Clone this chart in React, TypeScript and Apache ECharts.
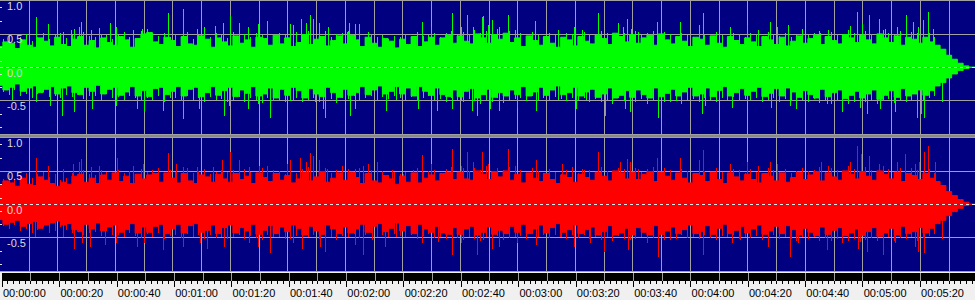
import React, { useEffect, useRef } from "react";
import * as echarts from "echarts";

// ---- data ----
const STEP_S = 2; // body envelope sampled every 2 seconds (t = 0, 2, 4, ...)
const HAIR_T0 = 1; // fine peaks sampled between them (t = 1, 3, 5, ...)
const X_MAX_S = 339.13; // visible time span (seconds)

const greenHi = [
  0.31,0.38,0.36,0.28,0.41,0.33,0.30,0.44,0.39,0.32,
  0.45,0.34,0.31,0.42,0.46,0.33,0.40,0.29,0.44,0.37,
  0.33,0.46,0.41,0.30,0.43,0.50,0.52,0.38,0.34,0.45,
  0.40,0.31,0.46,0.35,0.33,0.47,0.42,0.30,0.44,0.38,
  0.32,0.47,0.36,0.41,0.30,0.45,0.43,0.33,0.48,0.35,
  0.44,0.31,0.37,0.49,0.34,0.42,0.46,0.32,0.40,0.47,
  0.35,0.48,0.41,0.31,0.45,0.36,0.30,0.43,0.39,0.29,
  0.42,0.34,0.46,0.31,0.38,0.45,0.33,0.44,0.48,0.36,
  0.47,0.39,0.35,0.50,0.44,0.36,0.49,0.42,0.51,0.37,
  0.44,0.31,0.47,0.40,0.33,0.46,0.36,0.30,0.45,0.41,
  0.32,0.46,0.39,0.35,0.48,0.43,0.34,0.51,0.46,0.38,
  0.49,0.36,0.44,0.48,0.33,0.50,0.41,0.35,0.46,0.39,
  0.31,0.45,0.42,0.33,0.47,0.36,0.30,0.46,0.40,0.34,
  0.44,0.38,0.31,0.46,0.41,0.34,0.45,0.32,0.39,0.47,
  0.36,0.43,0.48,0.34,0.46,0.40,0.35,0.49,0.44,0.37,
  0.48,0.41,0.35,0.50,0.44,0.37,0.47,0.33,0.45,0.42,
  0.36,0.45,0.38,0.33,0.27,0.18,0.12,0.06,0.02,0,
  0,
];
const greenLo = [
  -0.27,-0.34,-0.30,-0.25,-0.36,-0.31,-0.28,-0.38,-0.33,-0.29,
  -0.40,-0.31,-0.28,-0.38,-0.41,-0.30,-0.36,-0.27,-0.40,-0.33,
  -0.30,-0.42,-0.37,-0.29,-0.43,-0.35,-0.44,-0.32,-0.30,-0.41,
  -0.36,-0.29,-0.43,-0.33,-0.30,-0.44,-0.38,-0.29,-0.42,-0.35,
  -0.30,-0.44,-0.34,-0.39,-0.29,-0.43,-0.40,-0.31,-0.46,-0.33,
  -0.42,-0.30,-0.35,-0.46,-0.32,-0.40,-0.44,-0.30,-0.38,-0.45,
  -0.33,-0.42,-0.38,-0.29,-0.41,-0.34,-0.28,-0.40,-0.36,-0.29,
  -0.40,-0.31,-0.43,-0.29,-0.36,-0.42,-0.31,-0.41,-0.44,-0.34,
  -0.44,-0.36,-0.32,-0.46,-0.41,-0.33,-0.45,-0.38,-0.43,-0.34,
  -0.41,-0.29,-0.43,-0.37,-0.30,-0.42,-0.34,-0.28,-0.41,-0.38,
  -0.30,-0.43,-0.37,-0.33,-0.45,-0.40,-0.31,-0.46,-0.42,-0.35,
  -0.45,-0.34,-0.41,-0.46,-0.31,-0.44,-0.39,-0.33,-0.43,-0.37,
  -0.30,-0.43,-0.40,-0.31,-0.44,-0.35,-0.29,-0.43,-0.38,-0.32,
  -0.42,-0.36,-0.30,-0.44,-0.39,-0.32,-0.43,-0.31,-0.37,-0.45,
  -0.35,-0.41,-0.46,-0.33,-0.44,-0.38,-0.34,-0.47,-0.42,-0.36,
  -0.46,-0.40,-0.34,-0.48,-0.42,-0.35,-0.45,-0.32,-0.43,-0.40,
  -0.34,-0.42,-0.35,-0.28,-0.23,-0.16,-0.10,-0.05,-0.02,0,
  0,
];
const redHi = [
  0.29,0.35,0.32,0.27,0.39,0.30,0.28,0.41,0.36,0.31,
  0.27,0.33,0.30,0.42,0.45,0.33,0.39,0.31,0.44,0.36,
  0.47,0.34,0.42,0.31,0.45,0.38,0.44,0.46,0.33,0.47,
  0.39,0.32,0.46,0.35,0.31,0.44,0.41,0.33,0.45,0.38,
  0.33,0.46,0.37,0.42,0.31,0.47,0.40,0.34,0.46,0.36,
  0.43,0.32,0.38,0.48,0.35,0.41,0.49,0.33,0.39,0.47,
  0.36,0.48,0.40,0.31,0.46,0.35,0.32,0.43,0.38,0.30,
  0.42,0.33,0.47,0.32,0.39,0.44,0.35,0.46,0.48,0.37,
  0.48,0.38,0.36,0.50,0.45,0.37,0.49,0.41,0.50,0.36,
  0.45,0.32,0.47,0.39,0.34,0.46,0.37,0.31,0.44,0.40,
  0.33,0.45,0.40,0.36,0.48,0.42,0.35,0.50,0.47,0.38,
  0.48,0.37,0.45,0.49,0.34,0.48,0.42,0.36,0.47,0.39,
  0.32,0.46,0.43,0.34,0.48,0.37,0.31,0.47,0.41,0.35,
  0.45,0.37,0.32,0.46,0.42,0.35,0.47,0.33,0.40,0.48,
  0.37,0.44,0.49,0.35,0.47,0.41,0.36,0.50,0.45,0.38,
  0.49,0.42,0.36,0.50,0.45,0.38,0.48,0.34,0.46,0.43,
  0.37,0.46,0.39,0.34,0.28,0.19,0.13,0.07,0.03,0,
  0,
];
const redLo = [
  -0.23,-0.30,-0.27,-0.24,-0.33,-0.29,-0.26,-0.36,-0.31,-0.28,
  -0.25,-0.31,-0.29,-0.38,-0.41,-0.30,-0.37,-0.28,-0.40,-0.34,
  -0.31,-0.42,-0.38,-0.29,-0.43,-0.34,-0.42,-0.33,-0.30,-0.44,
  -0.37,-0.30,-0.43,-0.32,-0.29,-0.42,-0.39,-0.31,-0.44,-0.35,
  -0.31,-0.43,-0.35,-0.40,-0.30,-0.45,-0.39,-0.32,-0.44,-0.34,
  -0.41,-0.31,-0.36,-0.46,-0.33,-0.40,-0.45,-0.31,-0.37,-0.44,
  -0.34,-0.43,-0.37,-0.30,-0.42,-0.33,-0.29,-0.41,-0.36,-0.28,
  -0.40,-0.32,-0.44,-0.30,-0.37,-0.42,-0.33,-0.43,-0.45,-0.35,
  -0.45,-0.37,-0.33,-0.46,-0.42,-0.34,-0.45,-0.39,-0.44,-0.33,
  -0.42,-0.30,-0.44,-0.37,-0.31,-0.43,-0.35,-0.29,-0.42,-0.38,
  -0.31,-0.44,-0.38,-0.34,-0.46,-0.41,-0.32,-0.46,-0.43,-0.36,
  -0.46,-0.35,-0.42,-0.46,-0.32,-0.45,-0.40,-0.34,-0.44,-0.38,
  -0.31,-0.44,-0.41,-0.32,-0.45,-0.36,-0.30,-0.44,-0.39,-0.33,
  -0.43,-0.37,-0.31,-0.45,-0.40,-0.33,-0.44,-0.32,-0.38,-0.46,
  -0.36,-0.42,-0.47,-0.34,-0.45,-0.39,-0.35,-0.47,-0.43,-0.37,
  -0.47,-0.41,-0.35,-0.48,-0.43,-0.36,-0.46,-0.33,-0.44,-0.41,
  -0.35,-0.43,-0.36,-0.29,-0.24,-0.17,-0.11,-0.06,-0.02,0,
  0,
];

// fine peaks between body samples (t = 1, 3, 5, ... 325)
const greenHairUp = [
  0.42,0.47,0.37,0.45,0.50,0.40,0.46,0.52,0.43,0.48,
  0.51,0.44,0.49,0.41,0.53,0.47,0.45,0.50,0.48,0.42,
  0.49,0.53,0.46,0.44,0.55,0.58,0.51,0.47,0.52,0.45,
  0.50,0.46,0.53,0.43,0.48,0.54,0.46,0.51,0.49,0.44,
  0.53,0.47,0.50,0.45,0.52,0.49,0.55,0.44,0.51,0.48,
  0.46,0.53,0.49,0.55,0.47,0.51,0.54,0.45,0.50,0.52,
  0.55,0.48,0.52,0.44,0.50,0.46,0.49,0.43,0.47,0.45,
  0.50,0.44,0.53,0.47,0.49,0.52,0.45,0.51,0.55,0.48,
  0.53,0.49,0.56,0.51,0.54,0.48,0.57,0.50,0.55,0.47,
  0.51,0.45,0.53,0.49,0.46,0.52,0.48,0.44,0.51,0.50,
  0.46,0.53,0.50,0.48,0.55,0.51,0.47,0.56,0.52,0.49,
  0.54,0.48,0.52,0.55,0.47,0.53,0.50,0.46,0.52,0.49,
  0.45,0.51,0.49,0.47,0.53,0.48,0.44,0.52,0.50,0.46,
  0.52,0.48,0.45,0.53,0.50,0.47,0.52,0.46,0.49,0.54,
  0.49,0.51,0.55,0.47,0.53,0.50,0.48,0.56,0.52,0.49,
  0.55,0.50,0.47,0.56,0.52,0.48,0.54,0.46,0.53,0.51,
  0.48,0.52,0.46,
];
const greenHairDown = [
  -0.38,-0.42,-0.35,-0.44,-0.40,-0.46,-0.41,-0.37,-0.45,-0.43,
  -0.47,-0.42,-0.45,-0.40,-0.48,-0.44,-0.43,-0.49,-0.41,-0.46,
  -0.45,-0.50,-0.43,-0.47,-0.51,-0.46,-0.49,-0.44,-0.52,-0.47,
  -0.46,-0.51,-0.44,-0.49,-0.47,-0.52,-0.45,-0.50,-0.48,-0.53,
  -0.49,-0.45,-0.52,-0.47,-0.50,-0.54,-0.46,-0.51,-0.49,-0.53,
  -0.51,-0.47,-0.53,-0.49,-0.46,-0.52,-0.50,-0.48,-0.54,-0.47,
  -0.48,-0.44,-0.50,-0.46,-0.43,-0.49,-0.45,-0.48,-0.44,-0.47,
  -0.49,-0.45,-0.51,-0.47,-0.44,-0.50,-0.48,-0.52,-0.46,-0.50,
  -0.53,-0.48,-0.51,-0.55,-0.49,-0.52,-0.47,-0.54,-0.50,-0.48,
  -0.47,-0.51,-0.44,-0.49,-0.46,-0.50,-0.45,-0.48,-0.51,-0.46,
  -0.50,-0.46,-0.52,-0.48,-0.53,-0.49,-0.55,-0.47,-0.51,-0.54,
  -0.52,-0.48,-0.55,-0.50,-0.47,-0.53,-0.49,-0.51,-0.46,-0.50,
  -0.48,-0.52,-0.46,-0.50,-0.53,-0.47,-0.49,-0.45,-0.51,-0.48,
  -0.50,-0.47,-0.53,-0.49,-0.46,-0.52,-0.48,-0.51,-0.55,-0.49,
  -0.52,-0.48,-0.54,-0.50,-0.56,-0.51,-0.49,-0.55,-0.52,-0.57,
  -0.53,-0.50,-0.56,-0.51,-0.48,-0.54,-0.50,-0.52,-0.49,-0.55,
  -0.50,-0.47,-0.44,
];
const redHairUp = [
  0.38,0.44,0.36,0.42,0.47,0.39,0.45,0.49,0.41,0.46,
  0.36,0.40,0.47,0.43,0.51,0.46,0.44,0.52,0.49,0.43,
  0.52,0.47,0.50,0.45,0.53,0.48,0.51,0.55,0.46,0.52,
  0.49,0.45,0.54,0.47,0.50,0.53,0.46,0.49,0.52,0.48,
  0.51,0.47,0.53,0.49,0.45,0.55,0.48,0.52,0.50,0.46,
  0.50,0.47,0.53,0.56,0.49,0.52,0.55,0.47,0.51,0.54,
  0.53,0.49,0.55,0.45,0.51,0.47,0.50,0.44,0.48,0.46,
  0.49,0.45,0.54,0.48,0.50,0.52,0.47,0.53,0.56,0.49,
  0.54,0.50,0.55,0.52,0.57,0.49,0.55,0.51,0.56,0.48,
  0.52,0.46,0.54,0.50,0.47,0.53,0.49,0.45,0.52,0.50,
  0.47,0.52,0.51,0.49,0.56,0.50,0.48,0.55,0.53,0.50,
  0.55,0.49,0.53,0.56,0.48,0.54,0.51,0.47,0.53,0.50,
  0.46,0.52,0.50,0.48,0.54,0.49,0.45,0.53,0.51,0.47,
  0.53,0.49,0.46,0.54,0.51,0.48,0.53,0.47,0.50,0.55,
  0.50,0.52,0.56,0.48,0.54,0.51,0.49,0.57,0.53,0.50,
  0.56,0.51,0.48,0.57,0.53,0.49,0.55,0.47,0.54,0.52,
  0.49,0.53,0.47,
];
const redHairDown = [
  -0.33,-0.38,-0.32,-0.41,-0.37,-0.43,-0.39,-0.35,-0.44,-0.40,
  -0.34,-0.39,-0.44,-0.41,-0.47,-0.43,-0.42,-0.48,-0.40,-0.46,
  -0.46,-0.50,-0.44,-0.48,-0.51,-0.45,-0.49,-0.44,-0.52,-0.48,
  -0.47,-0.51,-0.45,-0.50,-0.46,-0.52,-0.46,-0.51,-0.49,-0.53,
  -0.48,-0.46,-0.52,-0.48,-0.51,-0.54,-0.47,-0.50,-0.49,-0.52,
  -0.52,-0.48,-0.53,-0.50,-0.47,-0.53,-0.51,-0.49,-0.54,-0.48,
  -0.49,-0.45,-0.51,-0.47,-0.44,-0.50,-0.46,-0.49,-0.45,-0.48,
  -0.50,-0.46,-0.52,-0.48,-0.45,-0.51,-0.49,-0.53,-0.47,-0.51,
  -0.54,-0.49,-0.52,-0.55,-0.50,-0.53,-0.48,-0.54,-0.51,-0.49,
  -0.48,-0.52,-0.45,-0.50,-0.47,-0.51,-0.46,-0.49,-0.52,-0.47,
  -0.51,-0.47,-0.53,-0.49,-0.54,-0.50,-0.55,-0.48,-0.52,-0.54,
  -0.53,-0.49,-0.55,-0.51,-0.48,-0.54,-0.50,-0.52,-0.47,-0.51,
  -0.49,-0.53,-0.47,-0.51,-0.54,-0.48,-0.50,-0.46,-0.52,-0.49,
  -0.51,-0.48,-0.54,-0.50,-0.47,-0.53,-0.49,-0.52,-0.55,-0.50,
  -0.53,-0.49,-0.55,-0.51,-0.56,-0.52,-0.50,-0.55,-0.53,-0.57,
  -0.54,-0.51,-0.56,-0.52,-0.49,-0.55,-0.51,-0.53,-0.50,-0.56,
  -0.51,-0.48,-0.45,
];

// isolated tall peaks (seconds, amplitude)
const greenPeakT = [
  12.5,16.8,22,24.7,25.7,27.4,28.2,31.5,34.4,38.3,40.3,46.4,49.3,58.6,63.5,68.4,71,74.8,77.4,80,83,86.4,89.9,92.8,100.9,102,104.7,106.3,107.8,109,111,
  114.2,120.7,121.4,123.5,125,127.9,146.7,149.9,157.3,160.3,162.3,164.6,167.6,168.1,169.9,171,173.4,176.6,179.1,186.1,194.2,199.8,202.3,208.1,215.1,216.6,218,219.5,222,
  228.4,236.5,243.3,244.4,254,259.7,263.8,267.8,270.1,274.1,279.1,285.2,288.1,295.6,298.2,299.7,302.3,305.9,307.8,311.9,315.1,317.6,319.4,321.1,322.9,324.6,
  4.1,12.5,17.4,21.6,25.7,31.9,40.3,47.5,50.1,56.8,63.5,69.3,77.9,79.7,86.4,89.9,93.9,102,109.6,112.5,
  113,120,121.7,123.5,131,134.1,137.9,145.3,151.9,157.1,160.3,164.1,165.8,170.4,173.4,179.7,186.3,194.2,200.3,203.7,210.4,217.4,219.1,224.9,
  229,233,237,244,245.2,254.5,259.7,268,274.7,277,287.5,292.7,299,301.6,306,311.3,318.8,320.2,321.4,327.5,
];
const greenPeakV = [
  0.75,0.65,0.53,0.56,0.58,0.61,0.68,0.56,0.59,0.66,0.61,0.56,0.57,0.81,0.88,0.58,0.6,0.62,0.67,0.78,0.67,0.61,0.65,0.7,0.65,0.63,0.73,0.66,0.78,0.73,0.66,
  0.61,0.53,0.66,0.65,0.65,0.53,0.68,0.61,0.82,0.61,0.78,0.61,0.76,0.77,0.63,0.71,0.61,0.78,0.56,0.7,0.56,0.61,0.56,0.82,0.66,0.61,0.73,0.58,0.53,
  0.68,0.68,0.63,0.81,0.61,0.63,0.56,0.68,0.61,0.63,0.57,0.51,0.56,0.62,0.83,0.66,0.78,0.73,0.58,0.61,0.78,0.68,0.61,0.71,0.83,0.58,
  -0.49,-0.53,-0.58,-0.73,-0.67,-0.63,-0.58,-0.63,-0.68,-0.66,-0.78,-0.63,-0.73,-0.58,-0.63,-0.56,-0.76,-0.49,-0.53,-0.63,
  -0.76,-0.44,-0.73,-0.63,-0.49,-0.66,-0.49,-0.63,-0.66,-0.63,-0.49,-0.66,-0.73,-0.63,-0.66,-0.61,-0.66,-0.49,-0.63,-0.49,-0.73,-0.63,-0.68,-0.49,
  -0.76,-0.53,-0.56,-0.71,-0.58,-0.61,-0.51,-0.61,-0.58,-0.63,-0.56,-0.68,-0.61,-0.71,-0.63,-0.68,-0.76,-0.71,-0.76,-0.53,
];
const redPeakT = [
  12.5,16.8,22,25.3,27.4,28.2,31.5,34.4,40.6,46.1,49.8,58.6,61.2,63.5,68.4,74.2,77.1,80,83.2,86.7,90,92.8,99.7,100.9,104.3,106.3,107.8,109,111,
  113.6,118.8,123.5,126.4,128.1,131,136.2,140.3,143.8,146.7,149.9,157.3,160.3,162.3,164.6,167.6,169.9,176.8,179.1,186.3,195.4,198.8,202.3,208.1,215.7,218,219.1,222,
  228.4,236.5,243.3,244.4,254,259.7,263.8,267.8,270.1,285.7,288.1,295.6,298.2,299.6,302.2,305.9,311.9,314.8,318.2,319.7,321.4,322.9,325.2,
  12.2,22,25.7,28.4,31.3,36.5,40.3,47.5,50.1,56.8,63.5,69.6,72.1,77.9,81.2,86.7,89.9,93.9,102,104.9,111.3,
  113,123.5,126.4,129.3,133.9,137.9,146.7,152.5,157.3,160.3,165.8,168.1,171,173.4,179.7,186.3,194.7,199.8,205.2,210.2,218.5,224.9,
  229,233,243.5,244.4,254.5,257.4,260.9,267.3,274.7,277.6,287.6,292.7,298.5,301.4,307.2,311.3,318.2,319.4,321.4,327.5,
];
const redPeakV = [
  0.70,0.58,0.53,0.61,0.63,0.68,0.56,0.58,0.70,0.58,0.6,0.77,0.6,0.56,0.56,0.56,0.66,0.78,0.66,0.56,0.58,0.58,0.6,0.66,0.7,0.63,0.77,0.73,0.66,
  0.53,0.58,0.53,0.58,0.6,0.63,0.51,0.46,0.51,0.74,0.61,0.83,0.58,0.78,0.63,0.78,0.61,0.83,0.58,0.66,0.61,0.56,0.53,0.78,0.63,0.68,0.63,0.53,
  0.69,0.69,0.66,0.82,0.61,0.63,0.58,0.63,0.61,0.63,0.58,0.63,0.88,0.76,0.73,0.61,0.63,0.76,0.61,0.63,0.78,0.88,0.63,
  -0.49,-0.49,-0.67,-0.59,-0.64,-0.62,-0.59,-0.64,-0.59,-0.69,-0.64,-0.59,-0.67,-0.64,-0.49,-0.59,-0.64,-0.74,-0.59,-0.67,-0.64,
  -0.72,-0.62,-0.77,-0.54,-0.64,-0.49,-0.59,-0.57,-0.77,-0.59,-0.77,-0.54,-0.67,-0.64,-0.59,-0.62,-0.49,-0.65,-0.59,-0.72,-0.69,-0.59,
  -0.79,-0.54,-0.49,-0.77,-0.59,-0.54,-0.49,-0.64,-0.79,-0.59,-0.69,-0.59,-0.67,-0.72,-0.77,-0.59,-0.64,-0.72,-0.74,-0.52,
];

const ampMarks = [-0.9, -0.7, -0.3, -0.1, 0.1, 0.3, 0.7, 0.9];

// ---- styles ----
const NAVY = "#000080";
const GRID_GRAY = "#a0a0a0";
const FONT = "Liberation Sans";
const W = 975;
const H = 300;

function pad2(n: number) {
  return n < 10 ? "0" + n : String(n);
}
function timeLabel(v: number) {
  const s = Math.round(v);
  const h = Math.floor(s / 3600);
  const m = Math.floor((s % 3600) / 60);
  const sec = s % 60;
  return pad2(h) + ":" + pad2(m) + ":" + pad2(sec);
}

function zip(ts: number[], vs: number[]) {
  return ts.map((t, i) => [t, vs[i]]);
}

function channelSeries(
  idx: number,
  color: string,
  hi: number[],
  lo: number[],
  hairUp: number[],
  hairDown: number[],
  pt: number[],
  pv: number[]
) {
  const times = hi.map((_, i) => i * STEP_S);
  const hairTimes = hairUp.map((_, i) => HAIR_T0 + i * STEP_S);
  const yIdx = idx * 2;
  const lineBase = {
    type: "line",
    xAxisIndex: idx,
    yAxisIndex: yIdx,
    showSymbol: false,
    symbol: "none",
    step: "middle",
    silent: true,
    clip: true,
    z: 2,
    lineStyle: { color, width: 1 },
    areaStyle: { color, opacity: 1 },
  };
  const peakData = [...zip(hairTimes, hairUp), ...zip(hairTimes, hairDown), ...zip(pt, pv)];
  return [
    { ...lineBase, data: zip(times, hi) },
    { ...lineBase, data: zip(times, lo) },
    {
      type: "custom",
      xAxisIndex: idx,
      yAxisIndex: yIdx,
      silent: true,
      z: 3,
      encode: { x: 0, y: 1 },
      data: peakData,
      renderItem: (_p: any, api: any) => {
        const t = api.value(0);
        const v = api.value(1);
        const a = api.coord([t, 0]);
        const b = api.coord([t, v]);
        const x = Math.round(a[0]);
        const y0 = Math.min(a[1], b[1]);
        return {
          type: "rect",
          shape: { x, y: Math.round(y0), width: 1, height: Math.round(Math.abs(b[1] - a[1])) },
          style: { fill: color, stroke: null, opacity: 1 },
        };
      },
      markLine: {
        silent: true,
        symbol: ["none", "none"],
        label: { show: false },
        z: 5,
        lineStyle: { color: "#e8e8e8", type: [3, 3], width: 1, opacity: 1 },
        data: [{ yAxis: 0 }],
      },
    },
    {
      type: "custom",
      xAxisIndex: idx,
      yAxisIndex: yIdx,
      silent: true,
      z: 6,
      encode: { x: 0, y: 1 },
      data: ampMarks.map((v) => [0, v]),
      renderItem: (_p: any, api: any) => {
        const p = api.coord([api.value(0), api.value(1)]);
        const y = Math.round(p[1]) + 0.5;
        return {
          type: "line",
          shape: { x1: p[0], y1: y, x2: p[0] + 2, y2: y },
          style: { stroke: "#e0e0e0", lineWidth: 1 },
        };
      },
    },
  ];
}

function panelXAxis(gridIndex: number) {
  return {
    type: "value",
    gridIndex,
    min: 0,
    max: X_MAX_S,
    interval: 10,
    axisLine: { show: false },
    axisTick: { show: false },
    axisLabel: { show: false },
    splitLine: { show: true, showMinLine: false, showMaxLine: false, lineStyle: { color: GRID_GRAY, width: 1 } },
  };
}

function panelYAxes(gridIndex: number) {
  return [
    {
      type: "value",
      gridIndex,
      position: "left",
      min: -1,
      max: 1,
      interval: 0.5,
      axisLine: { show: false },
      axisTick: { show: false },
      axisLabel: { show: false },
      splitLine: {
        show: true,
        lineStyle: { color: [GRID_GRAY, GRID_GRAY, "rgba(0,0,0,0)", GRID_GRAY, GRID_GRAY], width: 1 },
      },
    },
    {
      type: "value",
      gridIndex,
      position: "left",
      offset: 0,
      min: -1,
      max: 1,
      interval: 0.5,
      z: 10,
      axisLine: { show: false, onZero: false },
      axisTick: { show: false },
      splitLine: { show: false },
      axisLabel: {
        inside: true,
        margin: 7,
        align: "left",
        verticalAlign: "top",
        color: "#dcdcdc",
        fontSize: 11,
        fontFamily: FONT,
        formatter: (v: number) => (v <= -1 ? "" : v.toFixed(1)),
      },
    },
  ];
}

export default function App() {
  const ref = useRef<HTMLDivElement>(null);
  useEffect(() => {
    if (!ref.current) return;
    const chart = echarts.init(ref.current, null, { renderer: "svg" });
    const option: any = {
      animation: false,
      backgroundColor: "#f0f0f0",
      grid: [
        { left: 0, top: 0.5, width: W, height: 133.5, show: true, backgroundColor: NAVY, borderWidth: 0 },
        { left: 0, top: 137.5, width: W, height: 133.5, show: true, backgroundColor: NAVY, borderWidth: 0 },
        { left: 0, top: 273, width: W, height: 8, show: true, backgroundColor: "#000000", borderWidth: 0 },
      ],
      graphic: [
        { type: "rect", left: 0, top: 134.5, shape: { x: 0, y: 0, width: W, height: 3 }, style: { fill: "#888888" }, silent: true },
      ],
      xAxis: [
        panelXAxis(0),
        panelXAxis(1),
        panelXAxis(2),
        {
          type: "value",
          gridIndex: 2,
          position: "bottom",
          min: 0,
          max: X_MAX_S,
          interval: 20,
          axisLine: { show: false },
          axisTick: { show: true, length: 6, lineStyle: { color: "#000000" } },
          minorTick: { show: true, splitNumber: 10, length: 3, lineStyle: { color: "#000000" } },
          splitLine: { show: false },
          axisLabel: {
            show: true,
            showMaxLabel: false,
            margin: 6,
            align: "left",
            color: "#000000",
            fontSize: 11,
            fontFamily: FONT,
            padding: [0, 0, 0, 1],
            formatter: (v: number) => timeLabel(v),
          },
        },
      ],
      yAxis: [
        ...panelYAxes(0),
        ...panelYAxes(1),
        { type: "value", gridIndex: 2, min: 0, max: 1, show: false },
      ],
      series: [
        ...channelSeries(0, "#00ff00", greenHi, greenLo, greenHairUp, greenHairDown, greenPeakT, greenPeakV),
        ...channelSeries(1, "#ff0000", redHi, redLo, redHairUp, redHairDown, redPeakT, redPeakV),
      ],
    };
    chart.setOption(option);
    return () => chart.dispose();
  }, []);
  return (
    <div
      ref={ref}
      style={{ position: "absolute", left: 0, top: 0, width: W, height: H }}
    />
  );
}
